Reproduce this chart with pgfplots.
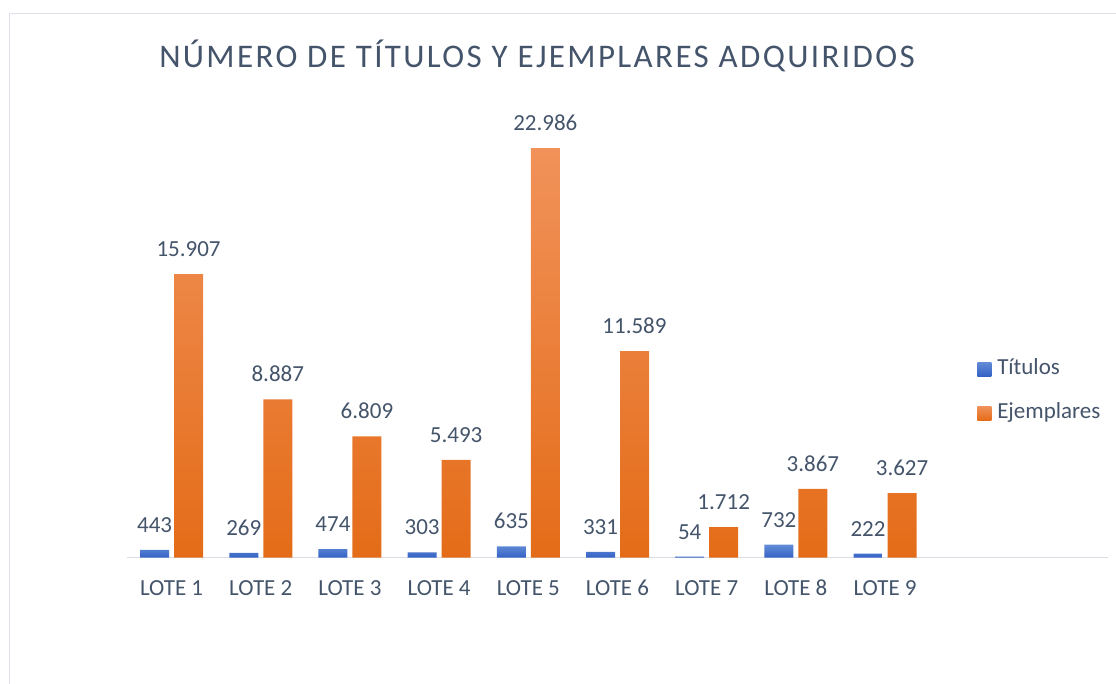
\documentclass[border=0pt]{standalone}
\usepackage{pgfplots}
\pgfplotsset{compat=1.18}
\usepackage{pgfplotstable}
\usepackage{fontspec}
\setmainfont{Carlito}
\newfontfamily\titlefont[LetterSpace=7.2]{Carlito}
\definecolor{txt}{RGB}{68,84,106}
\definecolor{bluetop}{RGB}{98,140,216}
\definecolor{bluebot}{RGB}{52,98,196}
\definecolor{orgtop}{RGB}{241,146,90}
\definecolor{orgmid}{RGB}{245,128,38}
\definecolor{orgbot}{RGB}{228,108,24}
\definecolor{axl}{RGB}{217,222,230}
\definecolor{brd}{RGB}{222,226,234}
\pgfplotstableread{
x y lab
0 443 443
1 269 269
2 474 474
3 303 303
4 635 635
5 331 331
6 54 54
7 732 732
8 222 222
}\titulos
\pgfplotstableread{
x y lab
0 15907 15.907
1 8887 8.887
2 6809 6.809
3 5493 5.493
4 22986 22.986
5 11589 11.589
6 1712 1.712
7 3867 3.867
8 3627 3.627
}\ejemplares
\begin{document}
\begin{tikzpicture}[x=1pt,y=1pt]
\useasboundingbox (0,0) rectangle (1116,684);
\draw[brd, line width=1.5pt] (9.5,0) -- (9.5,670.5) -- (1116,670.5);
\node[anchor=base, text=txt, font=\titlefont\fontsize{33}{39}\selectfont, inner sep=0pt] at (537,616) {NÚMERO DE TÍTULOS Y EJEMPLARES ADQUIRIDOS};
\begin{axis}[
  at={(127pt,126.3pt)}, anchor=south west,
  scale only axis, width=981pt, height=445.5pt,
  xmin=-0.5, xmax=10.5, ymin=0, ymax=25000,
  hide y axis,
  axis x line*=bottom,
  x axis line style={draw=axl, line width=1.5pt, -},
  xtick={0,...,8},
  xticklabels={LOTE 1,LOTE 2,LOTE 3,LOTE 4,LOTE 5,LOTE 6,LOTE 7,LOTE 8,LOTE 9},
  major tick length=0pt,
  xticklabel style={anchor=base, inner sep=0pt, yshift=-38pt, text=txt, font=\fontsize{23}{27}\selectfont},
  ybar, bar width=29pt,
  clip=false,
  point meta=explicit symbolic,
  nodes near coords,
  every node near coord/.append style={anchor=base, inner sep=0pt, yshift=17.5pt, text=txt, font=\fontsize{23}{27}\selectfont},
  legend style={at={(0.8665,0.374)}, anchor=west, draw=none, fill=none, inner sep=0pt,
    nodes={inner sep=0pt, text height=16pt, text depth=5pt, text=txt, font=\fontsize{23}{27}\selectfont},
    row sep=23pt},
  legend cell align=left,
  /tikz/every odd column/.append style={column sep=6pt},
  legend image code/.code={\path[#1, draw=none] (0pt,-7pt) rectangle (14pt,7pt);},
]
\addplot[draw=none, top color=bluetop, bottom color=bluebot, bar shift=-17pt] table[x=x, y=y, meta=lab] {\titulos};
\addplot[draw=none, top color=orgtop, middle color=orgmid, bottom color=orgbot, bar shift=17pt] table[x=x, y=y, meta=lab] {\ejemplares};
\legend{Títulos, Ejemplares}
\end{axis}
\end{tikzpicture}
\end{document}
